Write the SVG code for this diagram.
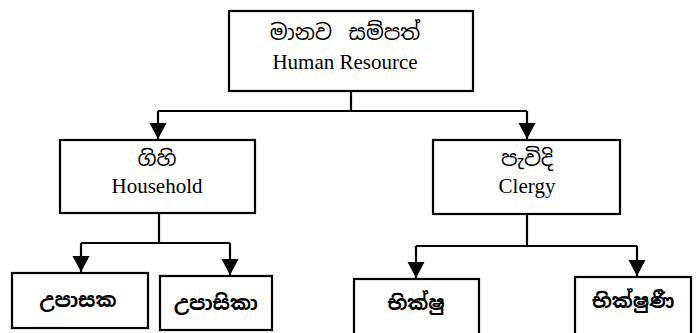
<svg xmlns="http://www.w3.org/2000/svg" width="696" height="333" viewBox="0 0 696 333">
<style>
.box{fill:#fff;stroke:#000;stroke-width:2.2}
.ln{fill:none;stroke:#000;stroke-width:2.2}
.si{font-family:"Noto Sans Sinhala","Iskoola Pota","Noto Serif Sinhala","Liberation Serif",serif;font-size:21px;text-anchor:middle;fill:#000}
.sib{font-family:"Noto Sans Sinhala","Iskoola Pota","Noto Serif Sinhala","Liberation Serif",serif;font-size:20px;font-weight:bold;text-anchor:middle;fill:#000}
.en{font-family:"Liberation Serif","Times New Roman",serif;font-size:21px;text-anchor:middle;fill:#000}
</style>
<defs>
<marker id="ah" markerUnits="userSpaceOnUse" markerWidth="18" markerHeight="18" refX="16" refY="8.5" orient="auto">
<polygon points="0,0 16,8.5 0,17" fill="#000"/>
</marker>
</defs>
<g id="connectors">
<path class="ln" d="M351,91 V111 M158,111 H527" />
<path class="ln" d="M158,111 V139" marker-end="url(#ah)"/>
<path class="ln" d="M527,111 V139" marker-end="url(#ah)"/>
<path class="ln" d="M159,213 V243 M81,243 H230" />
<path class="ln" d="M81,243 V272" marker-end="url(#ah)"/>
<path class="ln" d="M230,243 V275" marker-end="url(#ah)"/>
<path class="ln" d="M527,214 V246 M416,246 H637" />
<path class="ln" d="M416,246 V278" marker-end="url(#ah)"/>
<path class="ln" d="M637,246 V276" marker-end="url(#ah)"/>
</g>
<g id="human-resource">
<rect class="box" x="229" y="11" width="244" height="80"/>
<text class="si" x="345" y="40" word-spacing="6">මානව සම්පත්</text>
<text class="en" x="345" y="69">Human Resource</text>
</g>
<g id="household">
<rect class="box" x="60" y="140" width="195" height="73"/>
<text class="si" x="157" y="166">ගිහි</text>
<text class="en" x="157" y="193">Household</text>
</g>
<g id="clergy">
<rect class="box" x="433" y="140" width="187" height="74"/>
<text class="si" x="527" y="166">පැවිදි</text>
<text class="en" x="527" y="193">Clergy</text>
</g>
<g id="upasaka">
<rect class="box" x="12" y="273" width="136" height="55"/>
<text class="sib" x="78" y="307">උපාසක</text>
</g>
<g id="upasika">
<rect class="box" x="160" y="276" width="112" height="54"/>
<text class="sib" x="216" y="310">උපාසිකා</text>
</g>
<g id="bhikshu">
<rect class="box" x="354" y="279" width="125" height="60"/>
<text class="sib" x="416" y="310">භික්ෂු</text>
</g>
<g id="bhikshuni">
<rect class="box" x="575" y="277" width="116" height="60"/>
<text class="sib" x="633" y="308">භික්ෂුණී</text>
</g>
</svg>
